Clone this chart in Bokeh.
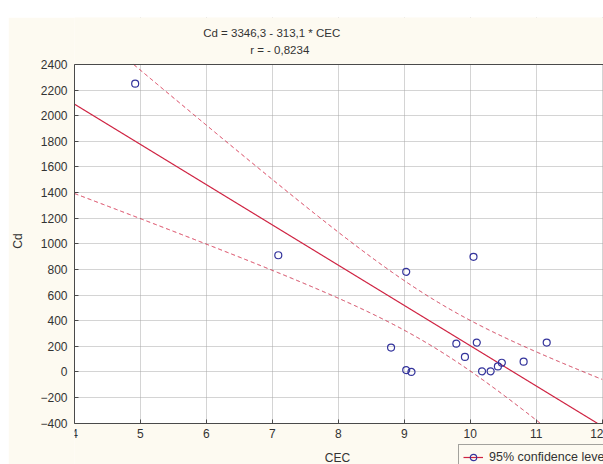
import numpy as np
from bokeh.plotting import figure
from bokeh.models import (Range1d, FixedTicker, LinearAxis, Label, Legend, LegendItem,
                          ColumnDataSource, Grid, Span, BoxAnnotation, Spacer)
from bokeh.layouts import row, column
from bokeh.embed import file_html
from bokeh.resources import INLINE

# ---- data ----
cec = [4.92, 7.09, 8.80, 9.03, 9.03, 9.11, 9.79, 9.92, 10.05, 10.10,
       10.18, 10.31, 10.42, 10.48, 10.81, 11.16]
cd = [2250, 911, 190, 782, 15, 0, 221, 117, 899, 229,
      5, 5, 43, 72, 80, 229]
x_ticks = [4, 5, 6, 7, 8, 9, 10, 11, 12]
y_ticks = list(range(-400, 2401, 200))
title_1 = "Cd = 3346,3 - 313,1 * CEC"
title_2 = "r = - 0,8234"
x_label = "CEC"
y_label = "Cd"
legend_label = "95% confidence level"
t_crit = 2.1448  # t(0.975, n-2)

X0, X1 = 4, 12
Y0, Y1 = -400, 2400

# ---- regression and 95% confidence band ----
x = np.array(cec, dtype=float)
y = np.array(cd, dtype=float)
n = len(x)
slope, intercept = np.polyfit(x, y, 1)
resid = y - (intercept + slope * x)
s = np.sqrt(np.sum(resid ** 2) / (n - 2))
xbar = x.mean()
sxx = np.sum((x - xbar) ** 2)
xg = np.linspace(X0, X1, 4001)
yg = intercept + slope * xg
half = t_crit * s * np.sqrt(1.0 / n + (xg - xbar) ** 2 / sxx)

def inside(v):
    v = v.copy()
    v[(v < Y0) | (v > Y1)] = np.nan
    return v

band = ColumnDataSource(dict(x=xg, fit=inside(yg), lo=inside(yg - half),
                             hi=inside(yg + half)))

CREAM = "#fdfaf1"
RED = "#cf2342"
BLUE = "#34349c"
AX = "#4a4a4a"
TXT = "#333333"
GRID = "#a9a9a9"
FONT = "Liberation Sans"

# pixel geometry of the plot area inside the figure
W, H = 595, 447
LEFT = 64
PX_PER_X = 66.2
TOP_PAD, BOT_PAD = 47.0, 41.3
k = (H - TOP_PAD - BOT_PAD) / (Y1 - Y0)
x_end = X0 + (W - LEFT) / PX_PER_X
y_end = Y1 + TOP_PAD / k
y_start = Y0 - BOT_PAD / k

p = figure(width=W, height=H, output_backend="svg", toolbar_location=None,
           x_range=Range1d(X0, x_end), y_range=Range1d(y_start, y_end),
           min_border_left=LEFT, min_border_right=0, min_border_top=0,
           min_border_bottom=0, x_axis_location=None, y_axis_location=None)
p.border_fill_color = CREAM
p.background_fill_color = CREAM
p.outline_line_color = None

# white plot area
p.add_layout(BoxAnnotation(left=X0, right=x_end, bottom=Y0, top=Y1,
                           fill_color="white", fill_alpha=1, line_color=None,
                           level="underlay"))

xb = LinearAxis(ticker=FixedTicker(ticks=x_ticks), fixed_location=Y0)
yl = LinearAxis(ticker=FixedTicker(ticks=y_ticks), axis_label=y_label, bounds=(Y0, Y1))
for ax in (xb, yl):
    ax.major_tick_in = 4
    ax.major_tick_out = 0
    ax.minor_tick_in = 0
    ax.minor_tick_out = 0
    ax.axis_line_color = AX
    ax.major_tick_line_color = AX
    ax.major_label_text_font = FONT
    ax.major_label_text_font_size = "12px"
    ax.major_label_text_color = TXT
xb.major_label_standoff = 6
yl.major_label_standoff = 7
yl.axis_label_text_font = FONT
yl.axis_label_text_font_size = "12px"
yl.axis_label_text_font_style = "normal"
yl.axis_label_text_color = TXT
yl.axis_label_standoff = 12
p.add_layout(xb, "below")
p.add_layout(yl, "left")

p.add_layout(Grid(dimension=0, ticker=FixedTicker(ticks=x_ticks),
                  grid_line_color=GRID, grid_line_dash="1 1"))
p.add_layout(Grid(dimension=1, ticker=FixedTicker(ticks=y_ticks),
                  grid_line_color=GRID, grid_line_dash="1 1"))
# keep the grid inside the plot area: cream covers above and below it
p.add_layout(BoxAnnotation(left=X0, right=x_end, bottom=Y1, top=y_end,
                           fill_color=CREAM, fill_alpha=1, line_color=None,
                           level="underlay"))
p.add_layout(BoxAnnotation(left=X0, right=x_end, bottom=y_start, top=Y0,
                           fill_color=CREAM, fill_alpha=1, line_color=None,
                           level="underlay"))
p.add_layout(Span(location=Y1, dimension="width", line_color=AX, line_width=1))

p.line("x", "lo", source=band, line_color=RED, line_dash="4 3", line_width=1)
p.line("x", "hi", source=band, line_color=RED, line_dash="4 3", line_width=1)
fit_r = p.line("x", "fit", source=band, line_color=RED, line_width=1.2)
pts_r = p.scatter(cec, cd, marker="circle", size=7, fill_color=None,
                  line_color=BLUE, line_width=1.2)

# titles and x label (inside the frame, above/below the plot area)
def px_to_x(px):
    return X0 + (px - 72) / PX_PER_X

def py_to_y(py):
    return Y1 - (py - 64) / k

for txt, px, py, fs in ((title_1, 270, 32, "11.5px"),
                        (title_2, 278, 49, "11.5px"),
                        (x_label, 336, 457, "12px")):
    p.add_layout(Label(x=px_to_x(px), y=py_to_y(py), text=txt, text_font=FONT,
                       text_font_size=fs, text_color=TXT, text_align="center",
                       text_baseline="middle"))

legend = Legend(items=[LegendItem(label=legend_label, renderers=[fit_r, pts_r])],
                location=(456 - 72, -6), border_line_color=AX, border_line_width=1,
                background_fill_color=CREAM, background_fill_alpha=1,
                label_text_font=FONT, label_text_font_size="12.5px",
                label_text_color=TXT, padding=4, margin=0,
                glyph_width=20, glyph_height=16, label_standoff=6, label_height=16)
p.add_layout(legend, "center")

layout = row(Spacer(width=8, height=464), column(Spacer(width=W, height=17), p, spacing=0),
             spacing=0)
open("out.html", "w").write(file_html(layout, INLINE))
